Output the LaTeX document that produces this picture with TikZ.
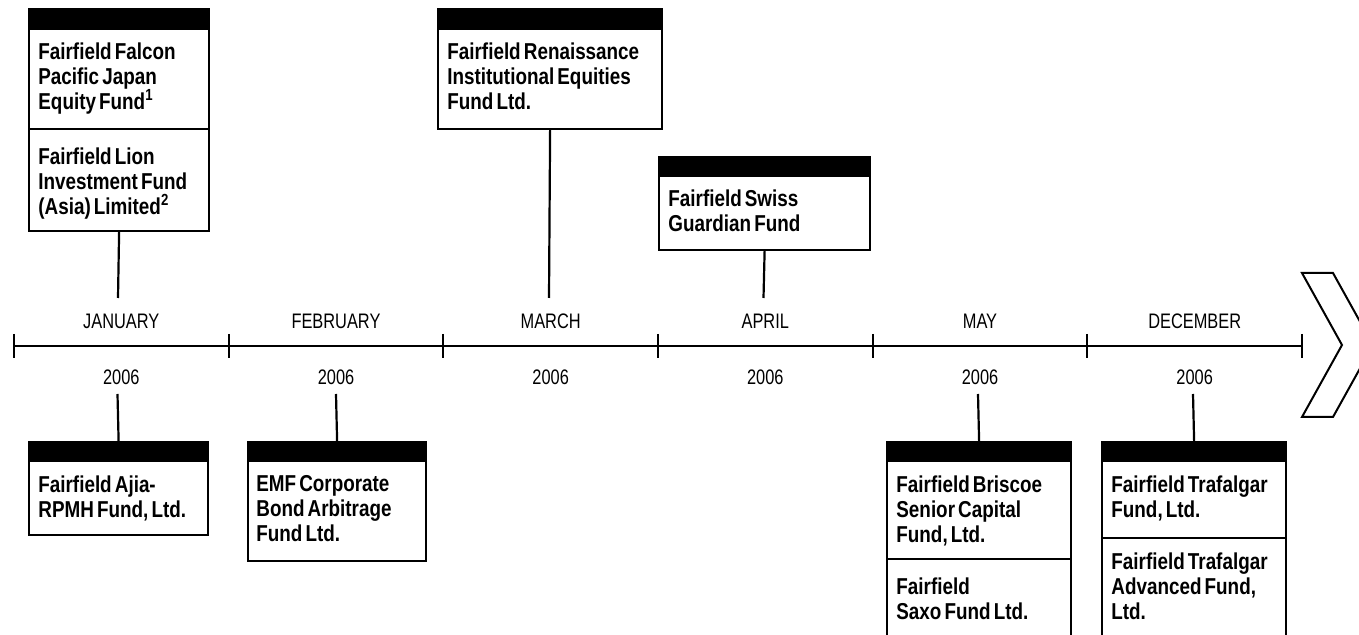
\documentclass[tikz,border=0pt]{standalone}
\usepackage{fontspec}
\setmainfont{Liberation Sans}
\newfontfamily\boxfont[FakeStretch=0.82,WordSpace=0.6]{Liberation Sans}
\newfontfamily\monthfont[FakeStretch=0.78]{Liberation Sans}
\begin{document}
\begin{tikzpicture}[x=0.5pt,y=-0.5pt,
  fbox/.style={draw, line width=1.1pt, inner sep=0, anchor=north west},
  hdr/.style={fill=black},
  divline/.style={line width=1.1pt},
  btext/.style={font=\boxfont\bfseries\fontsize{11.5}{12.5}\selectfont, align=left, inner sep=0, anchor=north west},
  mtext/.style={font=\monthfont\fontsize{10.5}{12}\selectfont, inner sep=0, anchor=base},
  conn/.style={line width=1.1pt},
  tline/.style={line width=1.1pt}]
\useasboundingbox (0,0) rectangle (1359,635);
\clip (0,0) rectangle (1359,635);

% ---------- timeline ----------
\foreach \n/\x in {t0/14,t1/228.7,t2/443.3,t3/658,t4/872.7,t5/1087.3,t6/1302}{
  \coordinate (\n) at (\x,346);
  \draw[tline] (\x,334) -- (\x,358);
}
\draw[tline] (t0) -- (t6);

\foreach \m/\x in {JANUARY/121.3,FEBRUARY/336,MARCH/550.7,APRIL/765.3,MAY/980,DECEMBER/1194.7}{
  \node[mtext] (m\m) at (\x,328.5) {\m};
  \node[mtext] (y\m) at (\x,385) {2006};
}

% chevron
\draw[line width=1pt, line join=miter] (1302,273) -- (1333,273) -- (1373,345) -- (1333,417) -- (1302,417) -- (1342,345) -- cycle;

% ---------- January top ----------
\node[fbox, minimum width=90pt, minimum height=111pt] (janT) at (28,8) {};
\fill[hdr] (28,8) rectangle (208,30);
\draw[divline] (28,129) -- (208,129);
\node[btext] (janT1) at (38,42) {Fairfield Falcon\\Pacific Japan\\Equity Fund\textsuperscript{1}};
\node[btext] (janT2) at (38,147) {Fairfield Lion\\Investment Fund\\(Asia) Limited\textsuperscript{2}};
\coordinate (janTe) at (118,298);
\draw[conn] (janT.south) -- (janTe);

% ---------- March top ----------
\node[fbox, minimum width=112pt, minimum height=60pt] (marT) at (437,8) {};
\fill[hdr] (437,8) rectangle (661,30);
\node[btext] (marT1) at (447,42) {Fairfield Renaissance\\Institutional Equities\\Fund Ltd.};
\coordinate (marTe) at (549,298);
\draw[conn] (marT.south) -- (marTe);

% ---------- April top ----------
\node[fbox, minimum width=105.5pt, minimum height=46.5pt] (aprT) at (658,156) {};
\fill[hdr] (658,156) rectangle (869,177);
\node[btext] (aprT1) at (668,189) {Fairfield Swiss\\Guardian Fund};
\coordinate (aprTe) at (763.5,298);
\draw[conn] (aprT.south) -- (aprTe);

% ---------- January bottom ----------
\node[fbox, minimum width=89.5pt, minimum height=46.5pt] (janB) at (28,441) {};
\fill[hdr] (28,441) rectangle (207,462);
\node[btext] (janB1) at (38,475) {Fairfield Ajia-\\RPMH Fund, Ltd.};
\coordinate (janBe) at (117.5,394);
\draw[conn] (janB.north) -- (janBe);

% ---------- February bottom ----------
\node[fbox, minimum width=89pt, minimum height=59.5pt] (febB) at (247,441) {};
\fill[hdr] (247,441) rectangle (425,462);
\node[btext] (febB1) at (256,475) {EMF Corporate\\Bond Arbitrage\\Fund Ltd.};
\coordinate (febBe) at (336,394);
\draw[conn] (febB.north) -- (febBe);

% ---------- May bottom ----------
\node[fbox, minimum width=92pt, minimum height=110pt] (mayB) at (886,441) {};
\fill[hdr] (886,441) rectangle (1070,462);
\draw[divline] (886,559) -- (1070,559);
\node[btext] (mayB1) at (896,475) {Fairfield Briscoe\\Senior Capital\\Fund, Ltd.};
\node[btext] (mayB2) at (896,577) {Fairfield\\Saxo Fund Ltd.};
\coordinate (mayBe) at (978,394);
\draw[conn] (mayB.north) -- (mayBe);

% ---------- December bottom ----------
\node[fbox, minimum width=92pt, minimum height=110pt] (decB) at (1101,441) {};
\fill[hdr] (1101,441) rectangle (1285,462);
\draw[divline] (1101,538) -- (1285,538);
\node[btext] (decB1) at (1111,475) {Fairfield Trafalgar\\Fund, Ltd.};
\node[btext] (decB2) at (1111,552) {Fairfield Trafalgar\\Advanced Fund,\\Ltd.};
\coordinate (decBe) at (1193,394);
\draw[conn] (decB.north) -- (decBe);
\end{tikzpicture}
\end{document}
